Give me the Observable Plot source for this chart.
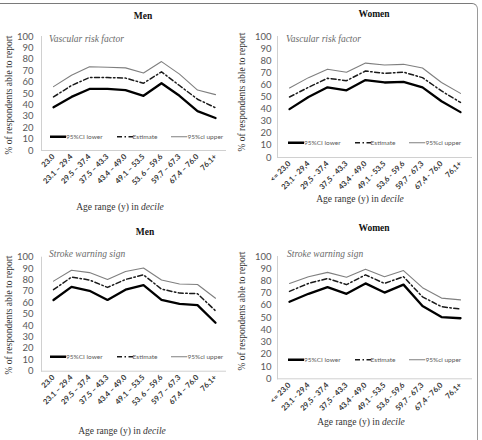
<!DOCTYPE html>
<html><head><meta charset="utf-8">
<script src="https://cdn.jsdelivr.net/npm/d3@7"></script>
<script src="https://cdn.jsdelivr.net/npm/@observablehq/plot@0.6"></script>
<style>
body{margin:0;background:#fff;}
#fig{position:relative;width:482px;height:440px;overflow:hidden;background:#fff;}
.abs{position:absolute;white-space:nowrap;line-height:1;}
.serif{font-family:"Liberation Serif","Times New Roman","DejaVu Serif",serif;}
.title{font-weight:bold;font-size:9.5px;color:#111;transform:translate(-50%,-50%);}
.xt{font-size:9.5px;color:#333;transform:translate(-50%,-50%);}
.yt{font-size:9.5px;color:#333;transform:translate(-50%,-50%) rotate(-90deg);}
.sub{font-style:italic;font-size:9.5px;color:#6a6a6a;transform:translateY(-50%);}
.leg{display:flex;align-items:center;font-family:Lato,sans-serif;font-size:6.5px;color:#595959;transform:translateY(-50%);}
.leg .it{display:flex;align-items:center;margin-right:14px;}
.leg svg{display:block;}
svg.pp [aria-label="x-axis tick label"]{font-family:Lato,sans-serif;font-size:7.6px;font-weight:bold;fill:#333;}
svg.pp [aria-label="y-axis tick label"]{font-family:Lato,sans-serif;font-size:9.5px;fill:#595959;}
#border{position:absolute;left:-10px;top:3px;right:4px;height:600px;border-top:1px solid #7a7a7a;border-right:1px solid #9a9a9a;border-top-right-radius:6px;}
</style></head>
<body>
<div id="fig"><div id="border"></div></div>
<script>
// ---- data ----
const menAges = ["23.0","23.1 \u2013 29.4","29.5 \u2013 37.4","37.5 \u2013 43.3","43.4 \u2013 49.0","49.1 \u2013 53.5","53. 6 \u2013 59.6","59.7 \u2013 67.3","67.4 \u2013 76.0","76.1+"];
const womenAges = ["<= 23,0","23,1 - 29,4","29,5 - 37,4","37,5 - 43,3","43,4 - 49,0","49,1 - 53,5","53,6 - 59,6","59,7 - 67,3","67,4 - 76,0","76,1+"];
const yTicks = [0,10,20,30,40,50,60,70,80,90,100];
const seriesNames = ["95%CI lower","Estimate","95%ci upper"];

const menVascLower    = [38, 47, 54, 54, 53, 48, 59, 48, 34.5, 28.5];
const menVascEstimate = [47, 57, 64, 64, 63.5, 59, 69, 57, 45, 37.5];
const menVascUpper    = [56, 66, 73.5, 73, 72.5, 68, 78, 67, 53, 49];

const womenVascLower    = [40, 50, 58, 55.5, 64, 62, 62.5, 58, 46.5, 37.5];
const womenVascEstimate = [50, 58, 65.5, 63.5, 71.5, 69.5, 70.5, 66, 55, 45.5];
const womenVascUpper    = [57.5, 66, 73, 70.5, 78, 76.5, 77, 74, 62, 53];

const menStrokeLower    = [62.5, 74, 70.5, 62.5, 71.5, 75.5, 62.5, 59, 58, 42.5];
const menStrokeEstimate = [71.5, 82.5, 80, 73.5, 80.5, 84.5, 72, 68.5, 68, 53];
const menStrokeUpper    = [79, 88.5, 86.5, 80.5, 87.5, 90.5, 80, 76.5, 76, 64];

const womenStrokeLower    = [63, 69.5, 75, 69.5, 78, 70.5, 77, 59.5, 50.5, 49.5];
const womenStrokeEstimate = [71.5, 78, 82, 77, 85, 78, 83.5, 67, 59, 57];
const womenStrokeUpper    = [78, 83.5, 87, 83, 89.5, 83.5, 88.5, 74.5, 66, 64.5];

// ---- layout ----
const fig = document.getElementById("fig");
const styles = {
  lower: {stroke: "#000", strokeWidth: 2.3, dash: null},
  est:   {stroke: "#1a1a1a", strokeWidth: 1.5, dash: "5,2.5,1.5,2.5"},
  upper: {stroke: "#7f7f7f", strokeWidth: 1.1, dash: null}
};

function addText(cls, x, y, html) {
  const d = document.createElement("div");
  d.className = "abs " + cls;
  d.style.left = x + "px"; d.style.top = y + "px";
  d.innerHTML = html;
  fig.appendChild(d);
  return d;
}

function panel(p) {
  const data = p.cats.map((c, i) => ({cat: c, lower: p.lower[i], est: p.est[i], upper: p.upper[i]}));
  const svg = Plot.plot({
    width: 241, height: 220,
    marginLeft: p.ml, marginRight: p.mr, marginTop: p.mt, marginBottom: p.mb,
    className: "pp",
    style: {background: "transparent", overflow: "visible", fontFamily: "Lato, sans-serif"},
    x: {type: "point", domain: p.cats, padding: 0.5, label: null},
    y: {domain: [0, 100], label: null},
    marks: [
      Plot.ruleY([0], {stroke: "#d0d0d0"}),
      Plot.frame({anchor: "left", stroke: "#d0d0d0"}),
      Plot.axisY({ticks: yTicks, tickSize: 0, tickPadding: p.tp, label: null}),
      Plot.axisX({tickRotate: -45, tickSize: 0, tickPadding: 5, label: null}),
      Plot.line(data, {x: "cat", y: "upper", stroke: styles.upper.stroke, strokeWidth: styles.upper.strokeWidth}),
      Plot.line(data, {x: "cat", y: "est", stroke: styles.est.stroke, strokeWidth: styles.est.strokeWidth, strokeDasharray: styles.est.dash}),
      Plot.line(data, {x: "cat", y: "lower", stroke: styles.lower.stroke, strokeWidth: styles.lower.strokeWidth})
    ]
  });
  svg.style.position = "absolute";
  svg.style.left = p.left + "px";
  svg.style.top = p.top + "px";
  fig.appendChild(svg);

  addText("serif title", p.title[0], p.title[1], p.sex);
  addText("serif sub", p.sub[0], p.sub[1], p.subtitle);
  addText("serif yt", p.yt[0], p.yt[1], "% of respondents able to report");
  addText("serif xt", p.xt[0], p.xt[1], "Age range (y) in <i>decile</i>");

  // legend
  const leg = addText("leg", p.leg[0], p.leg[1], "");
  [["lower", 0], ["est", 1], ["upper", 2]].forEach(([k, i]) => {
    const it = document.createElement("div");
    it.className = "it";
    const s = styles[k];
    const w = 16;
    it.innerHTML = `<svg width="${w}" height="6"><line x1="0" x2="${w}" y1="3" y2="3" stroke="${s.stroke}" stroke-width="${s.strokeWidth}" ${s.dash ? `stroke-dasharray="${s.dash}"` : ""}/></svg><span>${seriesNames[i]}</span>`;
    leg.appendChild(it);
  });
}

panel({sex: "Men", subtitle: "Vascular risk factor", cats: menAges,
  lower: menVascLower, est: menVascEstimate, upper: menVascUpper,
  left: 0, top: 0, ml: 41, mr: 15, mt: 36, mb: 70, tp: 8,
  title: [143, 17], sub: [49, 40], yt: [10, 95], xt: [120, 208], leg: [50, 137]});

panel({sex: "Women", subtitle: "Vascular risk factor", cats: womenAges,
  lower: womenVascLower, est: womenVascEstimate, upper: womenVascUpper,
  left: 241, top: 0, ml: 36, mr: 10, mt: 36, mb: 63, tp: 6,
  title: [374, 15], sub: [286, 40], yt: [243, 92], xt: [360, 200], leg: [288, 143]});

panel({sex: "Men", subtitle: "Stroke warning sign", cats: menAges,
  lower: menStrokeLower, est: menStrokeEstimate, upper: menStrokeUpper,
  left: 0, top: 220, ml: 41, mr: 15, mt: 36.7, mb: 69.3, tp: 8,
  title: [145, 233], sub: [49, 255], yt: [10, 315], xt: [122, 432], leg: [50, 357]});

panel({sex: "Women", subtitle: "Stroke warning sign", cats: womenAges,
  lower: womenStrokeLower, est: womenStrokeEstimate, upper: womenStrokeUpper,
  left: 241, top: 220, ml: 36, mr: 10, mt: 36, mb: 61.7, tp: 6,
  title: [374, 229], sub: [287, 255], yt: [243, 311], xt: [361, 423], leg: [288, 360]});
</script>
</body></html>
